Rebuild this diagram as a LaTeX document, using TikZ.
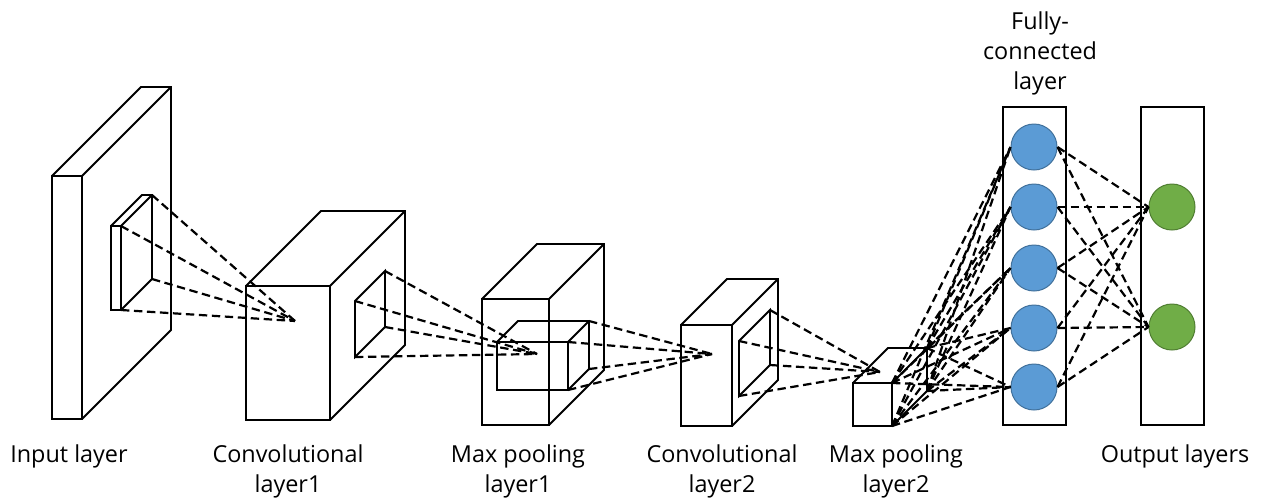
\documentclass[tikz,border=0pt]{standalone}
\usepackage{fontspec}
\setmainfont{Open Sans}

\definecolor{fcblue}{HTML}{5B9BD5}
\definecolor{fcblueline}{HTML}{41719C}
\definecolor{outgreen}{HTML}{70AD47}
\definecolor{outgreenline}{HTML}{507E32}

% cuboid: name, front top-left x, y, width, height, depth
\newcommand{\layerbox}[6]{%
	\coordinate (#1-ftl) at (#2,#3);
	\coordinate (#1-ftr) at (#2+#4,#3);
	\coordinate (#1-fbr) at (#2+#4,#3+#5);
	\coordinate (#1-fbl) at (#2,#3+#5);
	\coordinate (#1-btl) at (#2+#6,#3-#6);
	\coordinate (#1-btr) at (#2+#4+#6,#3-#6);
	\coordinate (#1-bbr) at (#2+#4+#6,#3+#5-#6);
	\draw[box] (#1-ftl) rectangle (#1-fbr);
	\draw[box] (#1-ftl) -- (#1-btl) -- (#1-btr) -- (#1-bbr) -- (#1-fbr);
	\draw[box] (#1-ftr) -- (#1-btr);
}

\begin{document}
\begin{tikzpicture}[x=0.5pt, y=-0.5pt,
		box/.style={draw, line width=0.9pt},
		link/.style={line width=1.1pt, dash pattern=on 4.2pt off 2.3pt},
		panel/.style={draw, line width=0.9pt, minimum width=31.5pt, minimum height=159pt, inner sep=0},
		neuron/.style={circle, draw=fcblueline, fill=fcblue, line width=0.5pt, minimum size=23pt, inner sep=0},
		outneuron/.style={neuron, draw=outgreenline, fill=outgreen},
		caption/.style={align=center, anchor=north, inner sep=0, font=\fontsize{11.7}{15}\selectfont}]
		\useasboundingbox (0,0) rectangle (1264,499);
		
		% feature maps
		\layerbox{input}{52}{176}{30}{243}{89}
		\layerbox{kern}{111}{226}{10}{84}{31}
		\layerbox{conv1}{246}{286}{84}{134}{75}
		\layerbox{pool1}{482}{299}{67}{126}{55}
		\layerbox{pkern}{497}{342}{71}{48}{21}
		\layerbox{conv2}{681}{325}{51}{101}{46}
		\layerbox{pool2}{853}{383}{39}{43}{35}
		
		% windows on the side faces
		\coordinate (w1a) at (355,301);
		\coordinate (w1b) at (385,271);
		\coordinate (w1c) at (385,327);
		\coordinate (w1d) at (355,357);
		\draw[box] (w1a) -- (w1b) -- (w1c) -- (w1d) -- cycle;
		\coordinate (w2a) at (739,341);
		\coordinate (w2b) at (770,310);
		\coordinate (w2c) at (770,365);
		\coordinate (w2d) at (739,396);
		\draw[box] (w2a) -- (w2b) -- (w2c) -- (w2d) -- cycle;
		
		\coordinate (f1) at (295,321);
		\coordinate (f2) at (537,354);
		\coordinate (f3) at (712,354);
		\coordinate (f4) at (880,372);
		
		\foreach \c in {btr,ftr,bbr,fbr} \draw[link] (kern-\c) -- (f1);
		\foreach \c in {a,b,c,d} \draw[link] (w1\c) -- (f2);
		\foreach \c in {btr,ftr,bbr,fbr} \draw[link] (pkern-\c) -- (f3);
		\foreach \c in {a,b,c,d} \draw[link] (w2\c) -- (f4);
		
		% dense part
		\node[panel] at (1034.5,266) (fc) {};
		\node[panel] at (1172.5,266) (out) {};
		\foreach \i/\y in {1/147,2/207,3/268,4/328,5/387}
			\node[neuron] at (1034,\y) (fc\i) {};
		\node[outneuron] at (1172,207) (out1) {};
		\node[outneuron] at (1172,327) (out2) {};
		
		\foreach \i in {1,...,5}
			\foreach \c in {ftr,btr,bbr,fbr}
				\draw[link] (pool2-\c) -- (fc\i.west);
		\foreach \i in {1,...,5}
			\foreach \j in {1,2}
				\draw[link] (fc\i.east) -- (out\j.west);
		
		% captions
		\node[caption] at (69,444) (capin) {Input layer};
		\node[caption] at (288,444) (capc1) {Convolutional\\layer1};
		\node[caption] at (518,444) (capp1) {Max pooling\\layer1};
		\node[caption] at (722,444) (capc2) {Convolutional\\layer2};
		\node[caption] at (896,444) (capp2) {Max pooling\\layer2};
		\node[caption] at (1175,444) (capout) {Output layers};
		\node[caption] at (1040,11) (capfc) {Fully-\\connected\\layer};
\end{tikzpicture}
\end{document}
